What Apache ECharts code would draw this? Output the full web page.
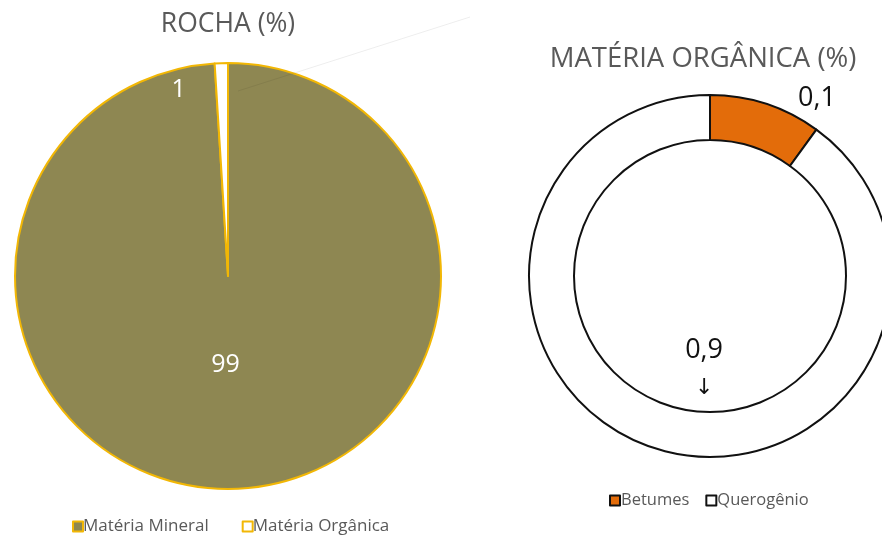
<!DOCTYPE html>
<html>
<head>
<meta charset="utf-8">
<title>Rocha e Matéria Orgânica</title>
<script src="https://cdn.jsdelivr.net/npm/echarts@6/dist/echarts.min.js"></script>
<style>
  html, body { margin: 0; padding: 0; background: #ffffff; }
  #chart { width: 882px; height: 536px; }
</style>
</head>
<body>
<div id="chart"></div>
<script>
// Composição da rocha (%)
const rockNames = ['Matéria Mineral', 'Matéria Orgânica'];
const rockValues = [99, 1];
const rockLabels = ['99', '1'];

// Composição da matéria orgânica (fração)
const organicNames = ['Betumes', 'Querogênio'];
const organicValues = [0.1, 0.9];
const organicLabels = ['0,1', '0,9'];

const FONT = '"Open Sans", "Noto Sans", sans-serif';
const GREY = '#595959';

const rockStyles = [
  { color: '#8e8752', borderColor: '#f2b705', borderWidth: 2 },
  { color: '#ffffff', borderColor: '#f2b705', borderWidth: 2 }
];
const organicStyles = [
  { color: '#e36c0a', borderColor: '#111111', borderWidth: 2 },
  { color: '#ffffff', borderColor: '#111111', borderWidth: 2 }
];

// label nudges away from the default inside position
const rockShift = [{ dx: -6, dy: -21 }, { dx: -46, dy: -77 }];
const organicShift = [{ dx: 57, dy: -24 }, { dx: 44, dy: -57 }];

const chart = echarts.init(document.getElementById('chart'), null, { renderer: 'canvas' });

chart.setOption({
  backgroundColor: '#ffffff',
  animation: false,
  title: [
    {
      text: 'ROCHA (%)',
      left: 223, top: 6, textAlign: 'center',
      textStyle: { fontFamily: FONT, fontSize: 26.5, fontWeight: 'normal', color: GREY }
    },
    {
      text: 'MATÉRIA ORGÂNICA (%)',
      left: 698, top: 40, textAlign: 'center',
      textStyle: { fontFamily: FONT, fontSize: 27.5, fontWeight: 'normal', color: GREY }
    }
  ],
  legend: [
    {
      data: rockNames,
      left: 67, top: 513,
      icon: 'rect', itemWidth: 10, itemHeight: 10, itemGap: 33,
      textStyle: { fontFamily: FONT, fontSize: 17, color: GREY, padding: [0, 0, 0, -5] }
    },
    {
      data: organicNames,
      left: 604, top: 487,
      icon: 'rect', itemWidth: 10, itemHeight: 10, itemGap: 16,
      textStyle: { fontFamily: FONT, fontSize: 16.5, color: GREY, padding: [0, 0, 0, -4] }
    }
  ],
  graphic: [
    {
      type: 'line',
      silent: true,
      z: 100,
      shape: { x1: 238, y1: 91, x2: 470, y2: 17 },
      style: { stroke: 'rgba(0,0,0,0.07)', lineWidth: 1 }
    }
  ],
  series: [
    {
      name: 'ROCHA (%)',
      type: 'pie',
      center: [228, 276],
      radius: [0, 213],
      startAngle: 90,
      clockwise: true,
      avoidLabelOverlap: false,
      label: {
        show: true, position: 'inside',
        fontFamily: FONT, fontSize: 25, color: '#ffffff',
        formatter: p => rockLabels[p.dataIndex]
      },
      labelLine: { show: false },
      labelLayout: p => rockShift[p.dataIndex],
      emphasis: { disabled: true },
      data: rockNames.map((n, i) => ({ name: n, value: rockValues[i], itemStyle: rockStyles[i] }))
    },
    {
      name: 'MATÉRIA ORGÂNICA (%)',
      type: 'pie',
      center: [710, 276],
      radius: [136, 181],
      startAngle: 90,
      clockwise: true,
      avoidLabelOverlap: false,
      label: {
        show: true, position: 'inside',
        fontFamily: FONT, fontSize: 27, color: '#111111', lineHeight: 32,
        formatter: p => p.dataIndex === 1
          ? organicLabels[p.dataIndex] + '\n{arrow|↓}'
          : organicLabels[p.dataIndex],
        rich: {
          arrow: { fontFamily: '"DejaVu Sans", sans-serif', fontSize: 22, color: '#111111', lineHeight: 44 }
        }
      },
      labelLine: { show: false },
      labelLayout: p => organicShift[p.dataIndex],
      emphasis: { disabled: true },
      data: organicNames.map((n, i) => ({ name: n, value: organicValues[i], itemStyle: organicStyles[i] }))
    }
  ]
});
</script>
</body>
</html>
